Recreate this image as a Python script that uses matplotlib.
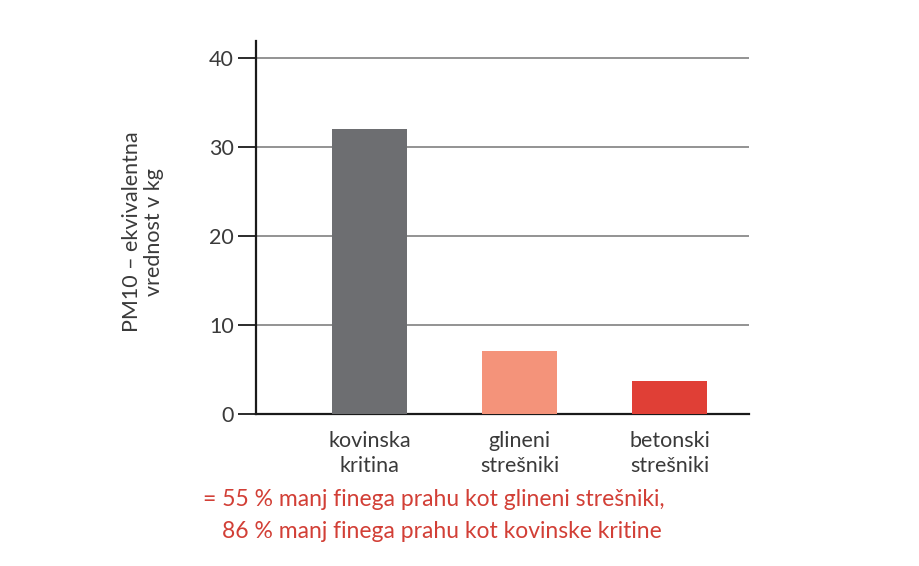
import matplotlib
matplotlib.use("Agg")
import matplotlib.pyplot as plt

categories = ["kovinska\nkritina", "glineni\nstrešniki", "betonski\nstrešniki"]
values = [32.0, 7.1, 3.7]
colors = ["#6d6e71", "#f4937a", "#e03f36"]
yticks = [0, 10, 20, 30, 40]
ylabel = "PM10 – ekvivalentna\nvrednost v kg"
caption1 = "= 55 % manj finega prahu kot glineni strešniki,"
caption2 = "86 % manj finega prahu kot kovinske kritine"

plt.rcParams['font.family'] = ['Lato', 'DejaVu Sans']

fig = plt.figure(figsize=(9.2, 5.66), dpi=100)
ax = fig.add_axes([256/920, 1-414/566, (749-256)/920, (414-41)/566])

x = list(range(len(categories)))
ax.bar(x, values, width=0.5, color=colors, zorder=3)
ax.set_xlim(-0.757, 2.53)
ax.set_ylim(0, 41.9)
ax.set_yticks(yticks)
ax.yaxis.grid(True, color="#8a8a8a", linewidth=1.3, zorder=0)
ax.set_axisbelow(True)
ax.set_xticks(x)
ax.set_xticklabels(categories, fontsize=15.5, color="#3a3a3a", linespacing=1.32)
ax.tick_params(axis='x', length=0, pad=12)
ax.tick_params(axis='y', length=13, width=1.3, color="#1a1a1a", labelsize=15.5, labelcolor="#3a3a3a", pad=3)
for s in ["top", "right"]:
    ax.spines[s].set_visible(False)
for s in ["left", "bottom"]:
    ax.spines[s].set_linewidth(1.6)
    ax.spines[s].set_color("#1a1a1a")

fig.text(143/920, 1-232/566, ylabel, rotation=90, ha="center", va="center",
         fontsize=15.5, color="#3a3a3a", multialignment="center", linespacing=1.1)

fig.text(203/920, 1-500/566, caption1, ha="left", va="center", fontsize=16.5, color="#d23f36")
fig.text(222/920, 1-531/566, caption2, ha="left", va="center", fontsize=16.5, color="#d23f36")

fig.savefig("out.png", dpi=100)
